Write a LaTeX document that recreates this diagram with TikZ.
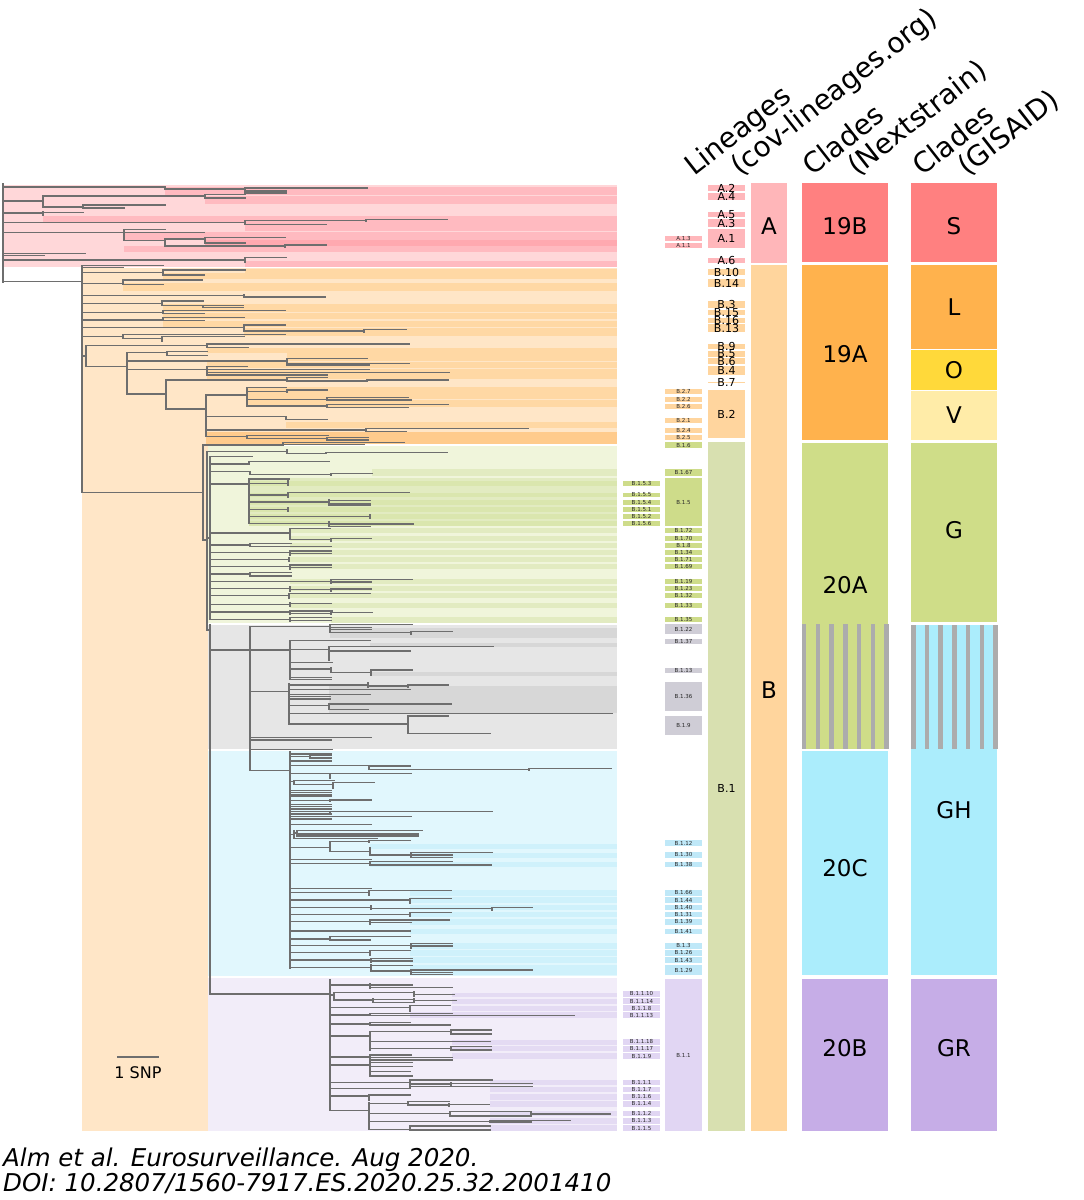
\documentclass[tikz,border=0pt]{standalone}
\usepackage{fontspec}
\setmainfont{DejaVu Sans}
\newcounter{nd}
\definecolor{treegray}{HTML}{6E6E6E}
\definecolor{pkL}{HTML}{FFD7D9}
\definecolor{pkD}{HTML}{FFBAC0}
\definecolor{pkDD}{HTML}{FFA9B0}
\definecolor{orL}{HTML}{FFE6C7}
\definecolor{orD}{HTML}{FFD8A4}
\definecolor{orDD}{HTML}{FFCB8C}
\definecolor{grL}{HTML}{F0F5DB}
\definecolor{grD}{HTML}{E2EBC1}
\definecolor{grDD}{HTML}{DAE6AE}
\definecolor{gyL}{HTML}{E6E6E6}
\definecolor{gyD}{HTML}{D7D7D7}
\definecolor{cyL}{HTML}{E1F7FD}
\definecolor{cyD}{HTML}{CFF1FB}
\definecolor{puL}{HTML}{F2EDF9}
\definecolor{puD}{HTML}{E4DBF3}
\definecolor{bxA}{HTML}{FFB7BB}
\definecolor{bxB}{HTML}{FFD59E}
\definecolor{bxG}{HTML}{CEDC8A}
\definecolor{bxY}{HTML}{CFCDD6}
\definecolor{bxC}{HTML}{BFE8F8}
\definecolor{bxP}{HTML}{E1D6F3}
\definecolor{bxBone}{HTML}{D8E0B0}
\definecolor{colA}{HTML}{FFB6B9}
\definecolor{colB}{HTML}{FFD59D}
\definecolor{colS}{HTML}{FF8080}
\definecolor{colL}{HTML}{FFB24D}
\definecolor{colO}{HTML}{FFD93A}
\definecolor{colV}{HTML}{FFECA8}
\definecolor{colG}{HTML}{CFDD88}
\definecolor{colC}{HTML}{ABEDFC}
\definecolor{colP}{HTML}{C6ADE7}
\definecolor{colStr}{HTML}{ACACAC}
\newcommand\Hb[3]{\draw[br] (#1,#3) -- (#2,#3);}
\newcommand\Vb[3]{\draw[br] (#1,#2) -- (#1,#3);}
\newcommand\St[4]{\fill[#4] (#1,#2) rectangle (617,#3);}
\newcommand\Lone[4]{\fill[#4] (708,#1) rectangle (745,#2); \stepcounter{nd}\node[lab] (n\arabic{nd}) at (726.5,{(#1+#2)/2}) {#3};}
\newcommand\Ltwo[4]{\fill[#4] (665,#1) rectangle (702,#2); \stepcounter{nd}\node[sml] (n\arabic{nd}) at (683.5,{(#1+#2)/2}) {#3};}
\newcommand\Lthr[4]{\fill[#4] (623,#1) rectangle (660,#2); \stepcounter{nd}\node[sml] (n\arabic{nd}) at (641.5,{(#1+#2)/2}) {#3};}
\begin{document}
\begin{tikzpicture}[x=1pt,y=-1pt,
  br/.style={draw=treegray,line width=1.4pt,line cap=rect},
  lab/.style={font=\fontsize{11}{12}\selectfont,inner sep=0pt},
  sml/.style={font=\fontsize{5.5}{6}\selectfont,inner sep=0pt,text=black!85},
  big/.style={font=\fontsize{23}{26}\selectfont,inner sep=0pt},
  hdr/.style={font=\fontsize{28}{32}\selectfont,rotate=38,anchor=base west,inner sep=0pt}]
\useasboundingbox (0,0) rectangle (1084,1200);
\fill[white] (0,0) rectangle (1084,1200);
% ---------- backgrounds ----------
\fill[pkL] (4,185) rectangle (617,266.5);
\fill[orL] (82,268) rectangle (617,443.5);
\fill[orL] (82,443.5) rectangle (208,1131);
\fill[grL] (208,446) rectangle (617,622.5);
\fill[gyL] (208,625) rectangle (617,748.5);
\fill[cyL] (208,751) rectangle (617,975.5);
\fill[puL] (208,978) rectangle (617,1131);
% pink stripes
\St{165}{187}{195}{pkD}\St{205}{196}{204.3}{pkD}\St{43}{215.7}{221.7}{pkD}\St{245}{222.3}{231}{pkD}
\St{124}{231.7}{240}{pkD}\St{205}{240}{246}{pkDD}\St{124}{246}{252.3}{pkD}\St{245}{260.7}{266.5}{pkD}
% orange stripes
\St{245}{269}{272.7}{orD}\St{163}{273.3}{279}{orD}\St{123}{283.3}{290.7}{orD}
\St{163}{304.3}{312.3}{orD}\St{163}{313.3}{319}{orD}\St{163}{320.7}{326.7}{orD}\St{244}{327.7}{336}{orD}
\St{207}{348.3}{352.7}{orD}\St{287}{353.3}{360.7}{orD}\St{207}{361.7}{368.3}{orD}\St{207}{369.3}{379}{orD}
\St{247}{386.7}{392.7}{orD}\St{247}{393.3}{399.3}{orD}\St{247}{400}{406.7}{orD}\St{286}{422.3}{428.3}{orD}
\St{206}{431.7}{443.5}{orDD}
% green stripes
\St{372}{469}{476}{grD}\St{249}{478.3}{526}{grD}
\St{249}{480.7}{485.7}{grDD}\St{249}{492.7}{497.3}{grDD}\St{249}{500}{504.7}{grDD}\St{249}{507}{511.7}{grDD}\St{249}{514.3}{519}{grDD}\St{249}{521.3}{526}{grDD}
\St{290}{528.3}{533.3}{grD}\St{290}{535.7}{540.7}{grD}\St{290}{542.7}{547.7}{grD}\St{290}{550}{555}{grD}\St{290}{557.3}{562.3}{grD}\St{290}{564.3}{569.3}{grD}
\St{290}{579}{584}{grD}\St{290}{586}{591}{grD}\St{290}{593.3}{598.3}{grD}\St{290}{602.7}{607.7}{grD}\St{331}{617}{622.5}{grD}
% gray stripes
\St{330}{628}{638}{gyD}\St{370}{643}{647}{gyD}\St{370}{672}{676}{gyD}\St{329}{686}{713}{gyD}
% cyan stripes
\St{370}{844}{849}{cyD}\St{410}{853}{858}{cyD}\St{370}{862}{867}{cyD}
\St{410}{890}{896}{cyD}\St{410}{897}{903}{cyD}\St{410}{905}{910}{cyD}\St{410}{912}{917}{cyD}\St{410}{919}{925}{cyD}\St{410}{929}{934}{cyD}
\St{410}{943}{949}{cyD}\St{410}{950}{956}{cyD}\St{410}{957}{963}{cyD}\St{410}{965}{975}{cyD}
% purple stripes
\St{452}{993}{997}{puD}\St{452}{999}{1004}{puD}\St{452}{1006}{1011}{puD}\St{410}{1012}{1018}{puD}
\St{452}{1040}{1045}{puD}\St{452}{1046}{1051}{puD}\St{452}{1053}{1059}{puD}
\St{490}{1080}{1085}{puD}\St{490}{1087}{1092}{puD}\St{490}{1094}{1100}{puD}\St{490}{1101}{1107}{puD}
\St{490}{1111}{1116}{puD}\St{490}{1118}{1124}{puD}\St{490}{1125}{1131}{puD}
% ---------- tree: A ----------
\Vb{3}{184}{282}
\Hb{3}{165}{187}\Vb{165}{187}{189}\Hb{165}{245}{189}\Vb{245}{188}{193}\Hb{245}{367}{188}\Hb{245}{286}{191}\Hb{245}{286}{193}
\Hb{3}{43}{201}\Vb{43}{196}{207}\Hb{43}{205}{196}\Vb{205}{194.7}{198}\Hb{205}{245}{194.7}\Hb{205}{245}{198}\Hb{43}{83}{207}\Vb{83}{205}{208}\Hb{83}{165}{205}\Hb{83}{124}{208}
\Hb{3}{43}{213}\Vb{43}{212}{215}\Hb{43}{83}{212.3}
\Hb{3}{245}{222.7}\Vb{245}{220.7}{224.3}\Hb{245}{366}{220.7}\Vb{366}{219.5}{221}\Hb{366}{447}{219.5}\Hb{245}{326}{224.3}
\Hb{3}{124}{232.7}\Vb{124}{229.3}{240.7}\Hb{124}{165}{229.3}\Hb{124}{204}{232.7}\Hb{124}{165}{240.7}\Vb{165}{239}{246}\Hb{165}{205}{239}\Vb{205}{237.5}{243}\Hb{205}{285}{237.5}\Hb{205}{245}{243}\Hb{165}{285}{246}\Vb{285}{245}{247.5}\Hb{285}{326}{245}
\Hb{3}{85}{253.3}
\Hb{3}{44}{255.7}
\Hb{3}{245}{260}\Vb{245}{257.7}{262.7}\Hb{245}{286}{257.7}
\Hb{3}{82}{281.7}
% ---------- tree: B ----------
\Vb{82}{265.7}{492.3}
\Hb{82}{163}{265.7}
\Hb{82}{123}{267.7}
\Hb{82}{163}{272.5}\Vb{163}{270}{275}\Hb{163}{245}{270}\Hb{163}{204}{275}
\Hb{82}{123}{283.3}\Vb{123}{280}{284.3}\Hb{123}{202}{280}\Hb{123}{163}{284.3}
\Hb{82}{244}{295.7}\Vb{244}{295}{297}\Hb{244}{325}{297}
\Hb{82}{162}{303.3}\Vb{162}{301}{305.7}\Hb{162}{203}{301}\Hb{162}{203}{305.7}\Vb{203}{305.7}{307.7}\Hb{203}{243}{305.7}\Hb{203}{243}{307.7}
\Hb{82}{163}{312.7}\Vb{163}{310.7}{313.3}\Hb{163}{285}{310.7}\Hb{163}{204}{313.3}
\Hb{82}{163}{320}\Vb{163}{317.7}{320.7}\Hb{163}{244}{317.7}\Hb{163}{204}{320.7}
\Hb{82}{244}{327.3}\Vb{244}{325}{331}\Hb{244}{285}{325}\Hb{244}{364}{331}\Vb{364}{329.7}{332}\Hb{364}{406}{329.7}
\Hb{82}{123}{336.7}\Vb{123}{334.3}{338.7}\Hb{123}{285}{334.3}\Hb{123}{162}{338.7}\Vb{162}{336.7}{341}\Hb{162}{244}{336.7}
\Hb{82}{86}{356}\Vb{86}{345.7}{366.7}
\Hb{86}{207}{345.7}\Vb{207}{344}{347.7}\Hb{207}{409}{344}\Hb{207}{248}{347.7}
\Hb{86}{127}{366.7}\Vb{127}{352.7}{394}
\Hb{127}{167}{352.7}\Vb{167}{351.7}{355.7}\Hb{167}{207}{351.7}\Hb{167}{207}{355.7}
\Hb{127}{287}{361}\Vb{287}{358.7}{365}\Hb{287}{367}{358.7}\Hb{287}{409}{363.3}\Hb{287}{369}{365}
\Hb{127}{207}{369.3}\Vb{207}{366.7}{375}\Hb{207}{247}{366.7}\Hb{207}{369}{369.3}\Hb{207}{449}{372.7}\Hb{207}{327}{375}
\Hb{127}{166}{394}\Vb{166}{380}{409}
\Hb{166}{287}{380}\Vb{287}{377.3}{381}\Hb{287}{327}{377.3}\Hb{287}{367}{381}\Vb{367}{380}{381.5}\Hb{367}{448}{380}
\Hb{166}{206}{409}\Vb{206}{395}{436.7}
\Hb{206}{247}{395}\Vb{247}{387.3}{406}\Hb{247}{286}{387.3}\Hb{247}{287}{391.7}\Vb{287}{390}{392}\Hb{287}{327}{390}\Hb{247}{327}{399.3}\Vb{327}{397.3}{400}\Hb{327}{408}{397.3}\Hb{327}{411}{400}\Hb{247}{327}{406}\Vb{327}{404.3}{407.7}\Hb{327}{448}{404.3}\Hb{327}{408}{407.7}
\Hb{206}{286}{416.7}\Vb{286}{416.7}{419.3}\Hb{286}{327}{419.3}
\Hb{206}{366}{430}\Vb{366}{428.3}{431.7}\Hb{366}{528}{428.3}\Hb{366}{406}{431.7}
\Hb{206}{247}{436.7}\Vb{247}{435.7}{438.7}\Hb{247}{328}{435.7}\Hb{247}{327}{438.7}\Vb{327}{437.7}{440}\Hb{327}{368}{437.7}\Hb{327}{368}{440}
% ---------- tree: B.1 ----------
\Hb{82}{203}{492.3}\Vb{203}{445}{540}
\Hb{203}{283}{445}\Vb{283}{442.7}{445}\Hb{283}{404}{442.7}\Hb{283}{364}{444.7}
\Hb{203}{207}{540}\Vb{207}{451.7}{630}
\Hb{207}{287}{451.7}\Vb{287}{450}{453.3}\Hb{287}{326}{453.3}\Vb{326}{452.3}{453.5}\Hb{326}{447}{452.3}
\Hb{207}{210}{538}\Vb{210}{456.7}{619.3}
\Hb{207}{210}{630}\Vb{210}{625}{994}
% green
\Hb{210}{252}{456.7}
\Hb{210}{249}{464}\Vb{249}{461.7}{464}\Hb{249}{329}{461.7}
\Hb{210}{250}{471.7}\Vb{250}{471.7}{474.3}\Hb{250}{331}{474.3}\Vb{331}{473.5}{475}\Hb{331}{372}{473.7}
\Hb{210}{249}{484}\Vb{249}{478.3}{523.3}
\Hb{249}{289}{479}\Hb{249}{288}{483.3}\Vb{288}{481}{485.7}
\Hb{249}{288}{495}\Vb{288}{492.7}{497.3}\Hb{288}{409}{492.7}
\Hb{249}{329}{502}\Vb{329}{500}{505}\Hb{329}{370}{500.7}\Hb{329}{370}{503.3}\Hb{329}{370}{505}
\Hb{249}{288}{509.3}\Vb{288}{507.3}{511.3}
\Hb{249}{370}{516.7}\Vb{370}{514.7}{518.7}
\Hb{249}{329}{523.3}\Vb{329}{521.7}{526.7}\Hb{329}{413}{524}\Hb{329}{370}{526.7}
\Hb{210}{290}{533}\Vb{290}{528.3}{539.3}\Hb{290}{330}{528.3}\Hb{290}{331}{539.3}\Vb{331}{538.7}{541}\Hb{331}{371}{538.7}
\Hb{210}{250}{545}\Vb{250}{543.3}{546.7}\Hb{250}{291}{543.3}\Hb{250}{331}{546.7}
\Hb{210}{290}{552.7}\Vb{290}{551}{555}\Hb{290}{331}{551}\Hb{290}{331}{553.3}
\Hb{210}{289}{559.3}\Vb{289}{557.5}{561.5}
\Hb{210}{290}{566.7}\Vb{290}{565}{569.3}\Hb{290}{331}{565}\Hb{290}{331}{567.3}
\Hb{210}{250}{574}\Vb{250}{572.7}{576}\Hb{250}{291}{572.7}\Hb{250}{291}{576}
\Hb{210}{331}{581.7}\Vb{331}{579.3}{583.3}\Hb{331}{412}{579.3}\Hb{331}{371}{582}
\Hb{210}{290}{588.3}\Vb{290}{586.7}{591}\Hb{290}{331}{589.3}\Vb{331}{588.3}{591.7}\Hb{331}{371}{589}
\Hb{210}{289}{595.3}\Vb{289}{593.3}{598.3}\Hb{289}{370}{593.7}
\Hb{210}{290}{604.7}\Vb{290}{603}{606.7}\Hb{290}{331}{603.3}
\Hb{210}{290}{612}\Vb{290}{610.7}{614}\Hb{290}{332}{611}\Hb{290}{331}{613.3}\Vb{331}{612.7}{614.3}\Hb{331}{372}{612.7}
\Hb{210}{290}{619.3}\Vb{290}{617.3}{621.5}\Hb{290}{331}{617.7}\Hb{290}{331}{620.5}
% gray
\Hb{210}{250}{650}\Vb{250}{626.7}{770.7}
\Hb{250}{330}{626.7}\Vb{330}{624.3}{632.7}\Hb{330}{412}{624.3}\Hb{330}{371}{627.7}\Hb{330}{371}{629.3}\Hb{330}{411}{632.7}\Vb{411}{631.7}{634}\Hb{411}{452}{631.7}
\Hb{250}{290}{650}\Vb{290}{640.7}{679.3}
\Hb{290}{370}{640.7}
\Hb{290}{329}{649.3}\Vb{329}{646.3}{660.7}\Hb{329}{493}{646.3}\Hb{329}{410}{651}
\Hb{290}{332}{662.7}
\Hb{290}{331}{669}\Vb{331}{667.7}{672.3}\Hb{331}{371}{672.3}\Vb{371}{670}{675}\Hb{371}{412}{670}
\Hb{290}{331}{677.3}\Hb{290}{331}{679.3}
\Hb{250}{289}{691.7}\Vb{289}{684}{724}
\Hb{289}{368}{685}\Vb{368}{683}{687}\Hb{368}{408}{686}\Vb{408}{685}{687}\Hb{408}{448}{685}
\Hb{289}{410}{689.3}
\Hb{289}{370}{694.3}
\Hb{289}{330}{696.7}\Hb{289}{330}{699}
\Hb{289}{329}{705.7}\Vb{329}{704}{709.3}\Hb{329}{451}{704}\Hb{329}{368}{709.3}
\Hb{289}{612}{713.3}
\Hb{289}{408}{724}\Vb{408}{716}{733.3}\Hb{408}{448}{716}\Hb{408}{490}{733.3}
\Hb{250}{371}{737.7}
\Hb{250}{331}{740}
\Hb{250}{332}{749.3}
% cyan
\Hb{250}{290}{770.7}\Vb{290}{751.7}{968.3}
\Hb{290}{331}{754}
\Hb{290}{310}{756.7}\Vb{310}{755}{758}\Hb{310}{331}{755}\Hb{310}{331}{758}
\Hb{290}{331}{761}
\Hb{290}{369}{765.7}\Vb{369}{765.7}{769.3}\Hb{369}{410}{766}\Hb{369}{529}{769.3}\Vb{529}{768.7}{770}\Hb{529}{611}{768.7}
\Hb{290}{330}{773.3}\Vb{330}{773.3}{778}\Hb{330}{411}{773.3}
\Hb{290}{294}{781.7}\Vb{294}{780.7}{784.3}\Hb{294}{334}{780.7}\Hb{294}{333}{784.3}\Vb{333}{782.7}{788.3}\Hb{333}{374}{782.7}
\Hb{290}{331}{790.7}\Hb{290}{331}{792.7}\Hb{290}{331}{795}\Hb{290}{331}{796.7}
\Hb{290}{330}{800.7}\Vb{330}{800}{801.5}\Hb{330}{371}{800}
\Hb{290}{331}{804.3}\Hb{290}{331}{806.7}\Hb{290}{331}{809}
\Hb{290}{330}{811.7}\Vb{330}{811.3}{812.5}\Hb{330}{492}{811.3}
\Hb{290}{331}{814}\Hb{290}{411}{816.7}\Hb{290}{331}{819}
\Hb{290}{371}{824.3}
\Hb{290}{294}{834.3}\Vb{294}{830.7}{838.3}\Hb{294}{297}{833}\Vb{297}{830.7}{836}\Hb{297}{422}{830.7}\Hb{297}{418}{834}\Hb{297}{418}{836}\Hb{294}{377}{838.3}
\Hb{290}{330}{847.3}\Vb{330}{841.7}{851.7}\Hb{330}{369}{841.7}\Vb{369}{840.7}{842}\Hb{369}{410}{840.7}\Hb{330}{370}{851.7}\Vb{370}{847.3}{855}\Hb{370}{411}{855}\Vb{411}{852.7}{857.3}\Hb{411}{492}{852.7}\Hb{411}{452}{855}\Hb{411}{452}{857.3}
\Hb{290}{371}{859.3}
\Hb{290}{370}{863.3}\Vb{370}{861.7}{865}\Hb{370}{452}{861.7}\Hb{370}{409}{865}\Hb{409}{491}{865}
\Hb{290}{371}{888.3}
\Hb{290}{369}{892.7}\Vb{369}{890.7}{895.3}\Hb{369}{451}{890.7}
\Hb{290}{410}{900}\Vb{410}{898.3}{903.3}\Hb{410}{451}{898.3}
\Hb{290}{371}{907.3}\Vb{371}{905.3}{909.3}\Hb{371}{492}{908.7}\Vb{492}{907.7}{910}\Hb{492}{532}{907.7}
\Hb{290}{410}{914.3}\Vb{410}{912.7}{916.7}\Hb{410}{451}{912.7}
\Hb{290}{370}{921.7}\Vb{370}{920}{924}\Hb{370}{449}{920}\Hb{370}{411}{922.3}
\Hb{290}{410}{931}
\Hb{290}{330}{939}\Vb{330}{936.7}{940}\Hb{330}{410}{936.7}\Hb{330}{370}{940}
\Hb{290}{411}{945.7}\Vb{411}{943.3}{948.3}\Hb{411}{452}{943.3}\Hb{411}{452}{946}
\Hb{290}{370}{952.7}\Vb{370}{950.7}{955}\Hb{370}{410}{950.7}
\Hb{290}{371}{960}\Vb{371}{958.3}{962.7}\Hb{371}{412}{958.3}\Hb{371}{412}{961}
\Hb{290}{371}{967.7}\Vb{371}{965}{971.7}\Hb{371}{412}{965.7}\Hb{371}{411}{971}\Vb{411}{970}{974.7}\Hb{411}{532}{970}\Hb{411}{452}{972.7}\Hb{411}{452}{974.7}
% purple
\Hb{210}{330}{994}\Vb{330}{979.3}{1110.7}
\Hb{330}{370}{985}\Vb{370}{984}{988.3}\Hb{370}{412}{985}\Hb{370}{452}{987.3}
\Hb{330}{334}{995}\Vb{334}{992.7}{1000}\Hb{334}{414}{992.7}\Vb{414}{991.7}{996}\Hb{414}{454}{994.3}\Hb{334}{373}{1000}\Vb{373}{999}{1002.3}\Hb{373}{414}{999.3}\Vb{414}{999}{1002.3}\Hb{414}{456}{1000.7}\Hb{373}{414}{1002.3}
\Hb{330}{410}{1007.3}\Vb{410}{1005.7}{1011.7}\Hb{410}{450}{1005.7}
\Hb{330}{370}{1015}\Vb{370}{1013.3}{1015.7}\Hb{370}{452}{1013.3}\Hb{370}{574}{1015.7}
\Hb{330}{370}{1024}\Vb{370}{1022.7}{1025}\Hb{370}{410}{1022.7}\Hb{370}{450}{1025}
\Hb{330}{370}{1036}\Vb{370}{1031.7}{1050}\Hb{370}{451}{1031.7}\Vb{451}{1030}{1034}\Hb{451}{491}{1030}\Hb{451}{491}{1034}\Hb{370}{490}{1041.7}\Hb{370}{451}{1048.3}\Vb{451}{1046.7}{1050}\Hb{451}{491}{1046.7}\Hb{451}{491}{1050}
\Hb{330}{370}{1057}\Vb{370}{1055}{1061}\Hb{370}{411}{1055}\Hb{370}{452}{1057.7}\Hb{370}{452}{1060}
\Hb{330}{370}{1065}\Vb{370}{1061.7}{1076.7}\Hb{370}{412}{1062.3}\Hb{370}{412}{1066.7}\Hb{370}{410}{1071.7}\Hb{370}{412}{1076}
\Hb{330}{410}{1082.7}\Vb{410}{1080}{1085}\Hb{410}{492}{1080}\Hb{410}{451}{1084}\Vb{451}{1083}{1085.3}\Hb{451}{532}{1083.3}
\Hb{330}{410}{1088.3}\Vb{410}{1086.7}{1088.3}\Hb{410}{532}{1086.7}
\Hb{330}{369}{1096}\Vb{369}{1095}{1100}\Hb{369}{410}{1095}
\Hb{330}{369}{1110.7}\Vb{369}{1102.7}{1129.3}
\Hb{369}{408}{1103.3}\Vb{408}{1101.7}{1105}\Hb{408}{449}{1101.7}\Hb{408}{449}{1105}\Vb{449}{1104}{1106}\Hb{449}{489}{1104.3}
\Hb{369}{450}{1113.3}\Vb{450}{1111.7}{1116}\Hb{450}{531}{1111.7}\Vb{531}{1111.7}{1116}\Hb{531}{610}{1114}\Hb{450}{531}{1116}
\Hb{369}{490}{1121.7}\Vb{490}{1120.7}{1122}\Hb{490}{570}{1120.7}\Hb{490}{531}{1122}
\Hb{369}{410}{1129.3}\Vb{410}{1126}{1130}\Hb{410}{490}{1126}\Hb{410}{490}{1130}
% scale bar
\draw[br] (118,1057) -- (158,1057);
\node[font=\fontsize{16}{18}\selectfont,inner sep=0pt] (snp) at (138,1073) {1 SNP};
% ---------- lineage columns ----------
\fill[bxBone] (708,442.3) rectangle (745,1131);
\node[lab] (b1) at (726.5,788) {B.1};
\Lone{185}{191}{A.2}{bxA}\Lone{193.3}{200}{A.4}{bxA}\Lone{211.7}{217.3}{A.5}{bxA}\Lone{219.3}{226.7}{A.3}{bxA}
\Lone{229}{247.7}{A.1}{bxA}\Lone{257.7}{263}{A.6}{bxA}
\Lone{269.3}{275}{B.10}{bxB}\Lone{279.3}{286.7}{B.14}{bxB}\Lone{300.7}{307.7}{B.3}{bxB}\Lone{310}{315}{B.15}{bxB}
\Lone{317.7}{323.3}{B.16}{bxB}\Lone{324.3}{332.3}{B.13}{bxB}\Lone{344}{349}{B.9}{bxB}\Lone{350.7}{356.7}{B.5}{bxB}
\Lone{358.3}{364.3}{B.6}{bxB}\Lone{365.7}{375}{B.4}{bxB}\Lone{381.7}{383.3}{B.7}{bxB}\Lone{390}{438.3}{B.2}{bxB}
\Ltwo{236}{240.7}{A.1.3}{bxA}\Ltwo{243.3}{248}{A.1.1}{bxA}
\Ltwo{389.3}{394.3}{B.2.7}{bxB}\Ltwo{396.7}{401.7}{B.2.2}{bxB}\Ltwo{403.7}{409}{B.2.6}{bxB}\Ltwo{418.3}{423.3}{B.2.1}{bxB}
\Ltwo{428}{432.7}{B.2.4}{bxB}\Ltwo{435}{440}{B.2.5}{bxB}
\Ltwo{442.3}{447.7}{B.1.6}{bxG}\Ltwo{469}{476}{B.1.67}{bxG}\Ltwo{478.3}{526}{B.1.5}{bxG}
\Ltwo{528.3}{533.3}{B.1.72}{bxG}\Ltwo{535.7}{540.7}{B.1.70}{bxG}\Ltwo{542.7}{547.7}{B.1.8}{bxG}\Ltwo{550}{555}{B.1.34}{bxG}
\Ltwo{557.3}{562.3}{B.1.71}{bxG}\Ltwo{564.3}{569.3}{B.1.69}{bxG}\Ltwo{579}{584}{B.1.19}{bxG}\Ltwo{586}{591}{B.1.23}{bxG}
\Ltwo{593.3}{598.3}{B.1.32}{bxG}\Ltwo{602.7}{607.7}{B.1.33}{bxG}\Ltwo{617}{622}{B.1.35}{bxG}
\Ltwo{624.3}{634}{B.1.22}{bxY}\Ltwo{639}{644}{B.1.37}{bxY}\Ltwo{667.7}{672.7}{B.1.13}{bxY}\Ltwo{682.3}{710.7}{B.1.36}{bxY}\Ltwo{715.7}{735}{B.1.9}{bxY}
\Ltwo{840}{846}{B.1.12}{bxC}\Ltwo{852}{857.7}{B.1.30}{bxC}\Ltwo{861.7}{867.3}{B.1.38}{bxC}
\Ltwo{890}{895.7}{B.1.66}{bxC}\Ltwo{897.3}{903}{B.1.44}{bxC}\Ltwo{904.7}{910.3}{B.1.40}{bxC}\Ltwo{911.7}{917.3}{B.1.31}{bxC}
\Ltwo{919}{924.7}{B.1.39}{bxC}\Ltwo{928.7}{934.3}{B.1.41}{bxC}\Ltwo{943}{948.7}{B.1.3}{bxC}\Ltwo{950}{955.7}{B.1.26}{bxC}
\Ltwo{957.3}{963}{B.1.43}{bxC}\Ltwo{965}{975}{B.1.29}{bxC}
\Ltwo{979.3}{1131}{B.1.1}{bxP}
\Lthr{480.7}{485.7}{B.1.5.3}{bxG}\Lthr{492.7}{497.3}{B.1.5.5}{bxG}\Lthr{500}{504.7}{B.1.5.4}{bxG}
\Lthr{507}{511.7}{B.1.5.1}{bxG}\Lthr{514.3}{519}{B.1.5.2}{bxG}\Lthr{521.3}{526}{B.1.5.6}{bxG}
\Lthr{991}{996.7}{B.1.1.10}{bxP}\Lthr{998.3}{1004}{B.1.1.14}{bxP}\Lthr{1005.3}{1011}{B.1.1.8}{bxP}\Lthr{1012.3}{1018}{B.1.1.13}{bxP}
\Lthr{1039}{1044.7}{B.1.1.18}{bxP}\Lthr{1046}{1051.7}{B.1.1.17}{bxP}\Lthr{1053.3}{1059}{B.1.1.9}{bxP}
\Lthr{1079.7}{1085.3}{B.1.1.1}{bxP}\Lthr{1086.7}{1092.3}{B.1.1.7}{bxP}\Lthr{1094}{1099.7}{B.1.1.6}{bxP}\Lthr{1101}{1106.7}{B.1.1.4}{bxP}
\Lthr{1110.7}{1116.3}{B.1.1.2}{bxP}\Lthr{1118}{1123.7}{B.1.1.3}{bxP}\Lthr{1125.3}{1131}{B.1.1.5}{bxP}
% ---------- A/B column ----------
\fill[colA] (751,183) rectangle (787,263);
\fill[colB] (751,265) rectangle (787,1131);
\node[big] (kA) at (769,226) {A};
\node[big] (kB) at (769,690) {B};
% ---------- Nextstrain ----------
\fill[colS] (802,183) rectangle (888,262);
\fill[colL] (802,265) rectangle (888,440);
\fill[colG] (802,443) rectangle (888,749);
\foreach \k in {0,...,6} \fill[colStr] ({802+13.7*\k},624) rectangle ({806.4+13.7*\k},749);
\fill[colC] (802,751) rectangle (888,975);
\fill[colP] (802,979) rectangle (888,1131);
\node[big] (k19B) at (845,226) {19B};
\node[big] (k19A) at (845,354) {19A};
\node[big] (k20A) at (845,585) {20A};
\node[big] (k20C) at (845,868) {20C};
\node[big] (k20B) at (845,1048) {20B};
% ---------- GISAID ----------
\fill[colS] (911,183) rectangle (997,262);
\fill[colL] (911,265) rectangle (997,349);
\fill[colO] (911,350) rectangle (997,390);
\fill[colV] (911,391) rectangle (997,440);
\fill[colG] (911,443) rectangle (997,622);
\fill[colC] (911,625) rectangle (997,975);
\foreach \k in {0,...,6} \fill[colStr] ({911+13.7*\k},625) rectangle ({915.5+13.7*\k},749);
\fill[colP] (911,979) rectangle (997,1131);
\node[big] (kS) at (954,226) {S};
\node[big] (kL) at (954,307) {L};
\node[big] (kO) at (954,370) {O};
\node[big] (kV) at (954,415) {V};
\node[big] (kG) at (954,530) {G};
\node[big] (kGH) at (954,810) {GH};
\node[big] (kGR) at (954,1048) {GR};
% ---------- headers ----------
\node[hdr] (h1) at (694,177) {Lineages};
\node[hdr] (h2) at (740,177) {(cov-lineages.org)};
\node[hdr] (h3) at (812,177) {Clades};
\node[hdr] (h4) at (857,177) {(Nextstrain)};
\node[hdr] (h5) at (922,177) {Clades};
\node[hdr] (h6) at (967,177) {(GISAID)};
% ---------- citation ----------
\node[anchor=base west,inner sep=0pt,font=\itshape\fontsize{24.5}{28}\selectfont] (c1) at (3,1166) {Alm et al. Eurosurveillance. Aug 2020.};
\node[anchor=base west,inner sep=0pt,font=\itshape\fontsize{24.5}{28}\selectfont] (c2) at (3,1191) {DOI: 10.2807/1560-7917.ES.2020.25.32.2001410};
\end{tikzpicture}
\end{document}
